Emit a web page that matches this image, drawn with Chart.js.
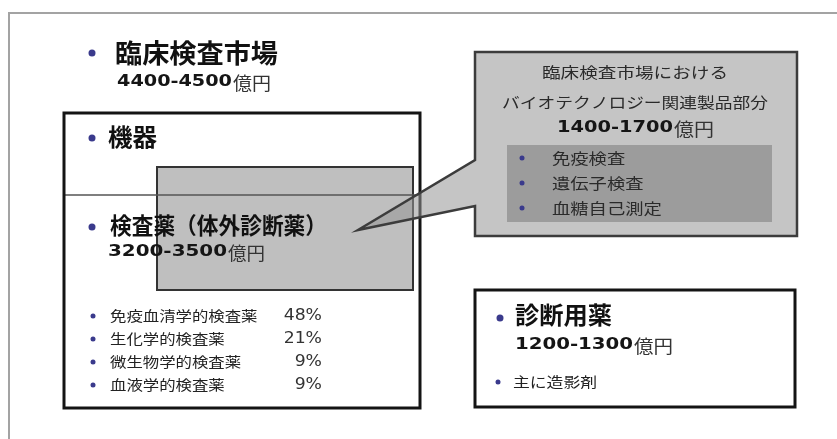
<!DOCTYPE html>
<html>
<head>
<meta charset="utf-8">
<script src="https://cdn.jsdelivr.net/npm/chart.js@4/dist/chart.umd.min.js"></script>
<style>
  html, body { margin: 0; padding: 0; background: #ffffff; }
  #wrap { width: 837px; height: 439px; }
</style>
</head>
<body>
<div id="wrap"><canvas id="c" width="837" height="439"></canvas></div>
<script>
// ---- market figures (億円) ----
const unitLabel = '億円';
const marketTitle = '臨床検査市場';
const marketRange = '4400-4500';
const equipmentTitle = '機器';
const reagentTitle = '検査薬（体外診断薬）';
const reagentRange = '3200-3500';
const reagentTypes = ['免疫血清学的検査薬', '生化学的検査薬', '微生物学的検査薬', '血液学的検査薬'];
const reagentShares = [48, 21, 9, 9];
const bioTitleLines = ['臨床検査市場における', 'バイオテクノロジー関連製品部分'];
const bioRange = '1400-1700';
const bioItems = ['免疫検査', '遺伝子検査', '血糖自己測定'];
const diagTitle = '診断用薬';
const diagRange = '1200-1300';
const diagItems = ['主に造影剤'];

// ---- fonts & colours ----
const JP = '"Noto Sans CJK JP", sans-serif';
const NUM = '"DejaVu Sans", sans-serif';
const BULLET = '#3a3a8c';

// ---- layout of the diagram, in scale units ----
const layout = {
  frame: { x0: 9, y0: 13, x1: 900, y1: 520 },
  leftBox: { x0: 64, y0: 113, x1: 420, y1: 408, divider: 195 },
  overlay: { x0: 157, y0: 167, x1: 413, y1: 290 },
  callout: { x0: 475, y0: 52, x1: 797, y1: 236, notchTop: 160, notchBottom: 206, tipX: 358, tipY: 230 },
  calloutInner: { x0: 507, y0: 145, x1: 772, y1: 222 },
  diagBox: { x0: 475, y0: 290, x1: 795, y1: 407 }
};

function sx(chart, v) { return chart.scales.x.getPixelForValue(v); }
function sy(chart, v) { return chart.scales.y.getPixelForValue(v); }

// draw text, optionally stretched horizontally to a given width or by a factor
function text(ctx, str, x, y, opt) {
  ctx.save();
  ctx.font = opt.font;
  ctx.fillStyle = opt.color || '#111';
  ctx.textBaseline = 'middle';
  ctx.textAlign = opt.align || 'left';
  const w = ctx.measureText(str).width;
  const k = opt.width ? opt.width / w : (opt.stretch || 1);
  ctx.translate(x, y);
  ctx.scale(k, 1);
  ctx.fillText(str, 0, 0);
  ctx.restore();
  return w * k;
}

function bullet(ctx, x, y, r) {
  ctx.save();
  ctx.fillStyle = BULLET;
  ctx.beginPath();
  ctx.arc(x, y, r, 0, Math.PI * 2);
  ctx.fill();
  ctx.restore();
}

function rangeLine(chart, ctx, nums, x, y, numWidth, unitWidth) {
  const X = sx(chart, x), Y = sy(chart, y);
  const w = text(ctx, nums, X, Y, { font: 'bold 16px ' + NUM, width: numWidth, color: '#151515' });
  text(ctx, unitLabel, X + w + 1, Y + 1, { font: '18px ' + JP, width: unitWidth, color: '#333' });
}

function rect(chart, ctx, b) {
  const x0 = sx(chart, b.x0), y0 = sy(chart, b.y0);
  return [x0, y0, sx(chart, b.x1) - x0, sy(chart, b.y1) - y0];
}

const diagramPlugin = {
  id: 'marketDiagram',
  afterDraw(chart) {
    const ctx = chart.ctx;
    ctx.save();

    // outer frame
    ctx.strokeStyle = '#a3a3a3';
    ctx.lineWidth = 2;
    ctx.strokeRect(...rect(chart, ctx, layout.frame));

    // market headline
    bullet(ctx, sx(chart, 92), sy(chart, 53), 3.5);
    text(ctx, marketTitle, sx(chart, 115), sy(chart, 53), { font: 'bold 26px ' + JP, width: 163 });
    rangeLine(chart, ctx, marketRange, 117, 82, 115, 38);

    // instruments / reagents box
    const lb = layout.leftBox;
    ctx.fillStyle = '#ffffff';
    ctx.fillRect(...rect(chart, ctx, lb));

    const ov = layout.overlay;
    ctx.fillStyle = '#bfbfbf';
    ctx.fillRect(...rect(chart, ctx, ov));
    ctx.strokeStyle = '#333';
    ctx.lineWidth = 2;
    ctx.strokeRect(...rect(chart, ctx, ov));

    ctx.strokeStyle = '#555';
    ctx.lineWidth = 1.5;
    ctx.beginPath();
    ctx.moveTo(sx(chart, lb.x0), sy(chart, lb.divider));
    ctx.lineTo(sx(chart, lb.x1), sy(chart, lb.divider));
    ctx.stroke();

    ctx.strokeStyle = '#141414';
    ctx.lineWidth = 3;
    ctx.strokeRect(...rect(chart, ctx, lb));

    bullet(ctx, sx(chart, 92), sy(chart, 138), 3.5);
    text(ctx, equipmentTitle, sx(chart, 108), sy(chart, 137), { font: 'bold 24px ' + JP, width: 49 });

    bullet(ctx, sx(chart, 92), sy(chart, 227), 3.5);
    text(ctx, reagentTitle, sx(chart, 110), sy(chart, 225), { font: 'bold 23px ' + JP, width: 217 });
    rangeLine(chart, ctx, reagentRange, 108, 252, 119, 37);

    const rowY = [316, 339, 362, 385];
    reagentTypes.forEach((name, i) => {
      const y = sy(chart, rowY[i]);
      bullet(ctx, sx(chart, 93), y, 2.5);
      text(ctx, name, sx(chart, 110), y, { font: '14px ' + JP, stretch: 1.17, color: '#222' });
      text(ctx, reagentShares[i] + '%', sx(chart, 322), y, { font: '15px ' + NUM, stretch: 1.15, align: 'right', color: '#333' });
    });

    // biotech callout
    const c = layout.callout;
    ctx.beginPath();
    ctx.moveTo(sx(chart, c.x0), sy(chart, c.y0));
    ctx.lineTo(sx(chart, c.x1), sy(chart, c.y0));
    ctx.lineTo(sx(chart, c.x1), sy(chart, c.y1));
    ctx.lineTo(sx(chart, c.x0), sy(chart, c.y1));
    ctx.lineTo(sx(chart, c.x0), sy(chart, c.notchBottom));
    ctx.lineTo(sx(chart, c.tipX), sy(chart, c.tipY));
    ctx.lineTo(sx(chart, c.x0), sy(chart, c.notchTop));
    ctx.closePath();
    ctx.fillStyle = 'rgba(150,150,150,0.55)';
    ctx.fill();
    ctx.strokeStyle = '#3c3c3c';
    ctx.lineWidth = 2.5;
    ctx.lineJoin = 'miter';
    ctx.stroke();

    text(ctx, bioTitleLines[0], sx(chart, 635), sy(chart, 72), { font: '15px ' + JP, width: 186, align: 'center', color: '#2a2a2a' });
    text(ctx, bioTitleLines[1], sx(chart, 635), sy(chart, 102), { font: '15px ' + JP, width: 266, align: 'center', color: '#2a2a2a' });
    rangeLine(chart, ctx, bioRange, 557, 128, 116, 40);

    ctx.fillStyle = '#9c9c9c';
    ctx.fillRect(...rect(chart, ctx, layout.calloutInner));
    const bioY = [158, 183, 208];
    bioItems.forEach((name, i) => {
      const y = sy(chart, bioY[i]);
      bullet(ctx, sx(chart, 522), y, 2.5);
      text(ctx, name, sx(chart, 552), y, { font: '15px ' + JP, stretch: 1.22, color: '#2a2a2a' });
    });

    // diagnostic drugs box
    const db = layout.diagBox;
    ctx.fillStyle = '#ffffff';
    ctx.fillRect(...rect(chart, ctx, db));
    ctx.strokeStyle = '#141414';
    ctx.lineWidth = 3;
    ctx.strokeRect(...rect(chart, ctx, db));

    bullet(ctx, sx(chart, 500), sy(chart, 318), 3.5);
    text(ctx, diagTitle, sx(chart, 515), sy(chart, 315), { font: 'bold 24px ' + JP, width: 97 });
    rangeLine(chart, ctx, diagRange, 515, 345, 118, 39);
    diagItems.forEach((name, i) => {
      const y = sy(chart, 382 + i * 23);
      bullet(ctx, sx(chart, 498), y, 2.5);
      text(ctx, name, sx(chart, 513), y, { font: '14px ' + JP, stretch: 1.2, color: '#222' });
    });

    ctx.restore();
  }
};

new Chart(document.getElementById('c'), {
  type: 'scatter',
  data: { datasets: [] },
  options: {
    responsive: false,
    animation: false,
    devicePixelRatio: 1,
    layout: { padding: 0 },
    plugins: { legend: { display: false }, tooltip: { enabled: false } },
    scales: {
      x: { type: 'linear', min: 0, max: 837, display: false },
      y: { type: 'linear', min: 0, max: 439, reverse: true, display: false }
    }
  },
  plugins: [diagramPlugin]
});
</script>
</body>
</html>
